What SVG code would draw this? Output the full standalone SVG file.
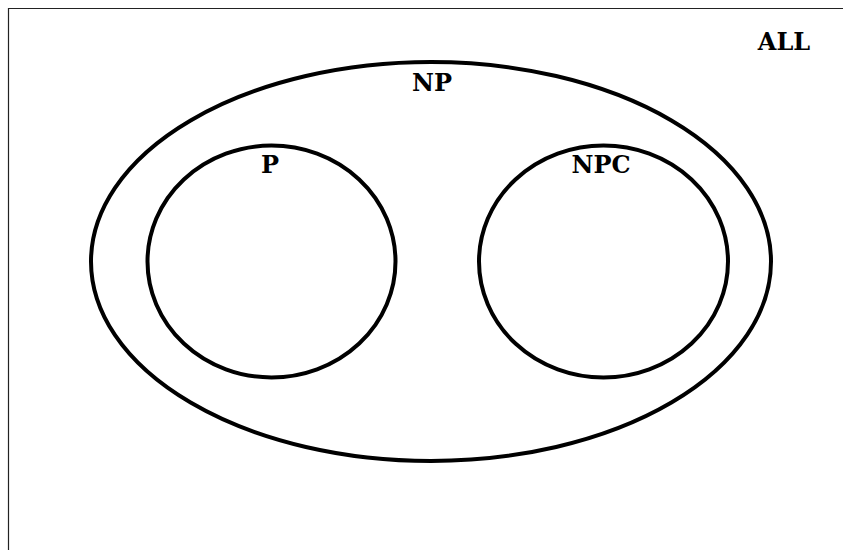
<svg xmlns="http://www.w3.org/2000/svg" width="843" height="550" viewBox="0 0 843 550">
  <style>
    .set { fill: none; stroke: #000; stroke-width: 4; }
    .lbl { font-family: "DejaVu Serif", "Liberation Serif", serif; font-weight: bold; font-size: 24px; text-anchor: middle; fill: #000; }
    .frame { stroke: #222; stroke-width: 1.2; fill: none; }
  </style>
  <rect width="843" height="550" fill="#fff"/>
  <g id="ALL">
    <path class="frame" d="M8.5,550 V8.5 H843"/>
    <text class="lbl" x="784" y="50">ALL</text>
  </g>
  <g id="NP">
    <ellipse class="set" cx="431" cy="261.5" rx="340" ry="199.5"/>
    <text class="lbl" x="432" y="91">NP</text>
  </g>
  <g id="P">
    <ellipse class="set" cx="271.5" cy="261.5" rx="124" ry="116"/>
    <text class="lbl" x="270" y="173">P</text>
  </g>
  <g id="NPC">
    <ellipse class="set" cx="603.5" cy="261.5" rx="124.5" ry="116"/>
    <text class="lbl" x="601" y="173">NPC</text>
  </g>
  <g id="connectors"/>
</svg>
